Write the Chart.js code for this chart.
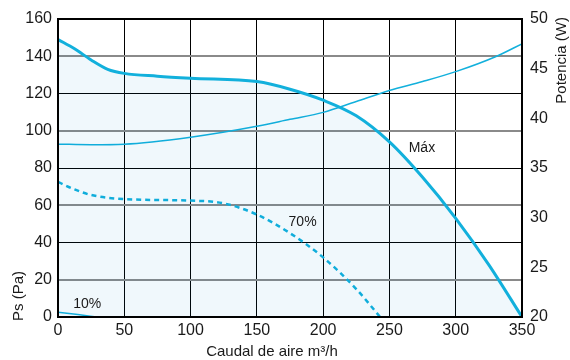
<!DOCTYPE html>
<html>
<head>
<meta charset="utf-8">
<title>Curva Ps / Potencia</title>
<script src="https://cdn.jsdelivr.net/npm/chart.js@4.4.1/dist/chart.umd.min.js"></script>
<style>
  html, body { margin: 0; padding: 0; background: #fff; }
  #wrap { width: 570px; height: 360px; }
</style>
</head>
<body>
<div id="wrap"><canvas id="fanChart" width="570" height="360"></canvas></div>
<script>
// static pressure curves (Pa) vs flow (m3/h)
const maxFlow = [0, 12.5, 25, 37.5, 50, 75, 100, 150, 175, 200, 225, 250, 275, 300, 325, 350];
const maxPs   = [149, 144, 138, 133, 130.8, 129.3, 128.2, 126.4, 122.3, 116.4, 108, 94, 75, 53, 28, 0];

const flow70 = [0, 12.5, 25, 50, 100, 125, 150, 175, 200, 225, 243];
const ps70   = [72.5, 68.5, 65.5, 63.3, 62.5, 61, 55, 45, 32, 15, 0];

const flow10 = [0, 15, 29];
const ps10   = [2.5, 1.3, 0];

// power (W), right axis
const powFlow = [0, 25, 50, 100, 150, 175, 200, 225, 250, 275, 300, 330, 350];
const powW    = [37.4, 37.35, 37.4, 38.1, 39.2, 39.9, 40.6, 41.7, 42.8, 43.7, 44.7, 46.2, 47.5];

const xTicks = [0, 50, 100, 150, 200, 250, 300, 350];
const yTicks = [0, 20, 40, 60, 80, 100, 120, 140, 160];
const y1Ticks = [20, 25, 30, 35, 40, 45, 50];

const curveLabels = ['10%', '70%', 'Máx'];
const labelFlow   = [22, 184.5, 274.5];
const labelPs     = [7.1, 51, 90.4];

const cyan = '#12b0dc';
const fontFam = '"Liberation Sans", Arial, sans-serif';

function pts(xs, ys) {
  return xs.map((x, i) => ({ x: x, y: ys[i] }));
}

const frame = {
  id: 'frame',
  afterDraw(chart) {
    const c = chart.ctx;
    const a = chart.chartArea;
    const sx = chart.scales.x, sy = chart.scales.y;
    c.save();
    c.strokeStyle = '#000';
    c.lineWidth = 2;
    c.strokeRect(a.left, a.top, a.right - a.left, a.bottom - a.top);

    c.fillStyle = '#1a1a1a';
    c.font = '14px ' + fontFam;
    c.textAlign = 'center';
    c.textBaseline = 'middle';
    curveLabels.forEach((t, i) => {
      c.fillText(t, sx.getPixelForValue(labelFlow[i]), sy.getPixelForValue(labelPs[i]));
    });

    c.font = '15px ' + fontFam;
    c.fillText('Caudal de aire m³/h', 272, 352);

    c.translate(18.5, 321);
    c.rotate(-Math.PI / 2);
    c.textAlign = 'left';
    c.fillText('Ps (Pa)', 0, 0);
    c.restore();

    c.save();
    c.fillStyle = '#1a1a1a';
    c.font = '15px ' + fontFam;
    c.textBaseline = 'middle';
    c.textAlign = 'right';
    c.translate(562, 17);
    c.rotate(-Math.PI / 2);
    c.fillText('Potencia (W)', 0, 0);
    c.restore();
  }
};

new Chart(document.getElementById('fanChart'), {
  type: 'scatter',
  data: {
    datasets: [
      {
        data: pts(maxFlow, maxPs),
        yAxisID: 'y',
        showLine: true,
        borderColor: cyan,
        borderWidth: 3,
        backgroundColor: 'rgba(0, 140, 210, 0.06)',
        fill: 'origin',
        pointRadius: 0,
        cubicInterpolationMode: 'monotone'
      },
      {
        data: pts(powFlow, powW),
        yAxisID: 'y1',
        showLine: true,
        borderColor: cyan,
        borderWidth: 1.5,
        pointRadius: 0,
        cubicInterpolationMode: 'monotone'
      },
      {
        data: pts(flow70, ps70),
        yAxisID: 'y',
        showLine: true,
        borderColor: cyan,
        borderWidth: 2.5,
        borderDash: [5, 4],
        pointRadius: 0,
        cubicInterpolationMode: 'monotone'
      },
      {
        data: pts(flow10, ps10),
        yAxisID: 'y',
        showLine: true,
        borderColor: cyan,
        borderWidth: 1.5,
        pointRadius: 0,
        cubicInterpolationMode: 'monotone'
      }
    ]
  },
  options: {
    responsive: false,
    animation: false,
    events: [],
    layout: { padding: { top: 19, left: 0, right: 0, bottom: 0 } },
    plugins: { legend: { display: false }, tooltip: { enabled: false } },
    scales: {
      x: {
        type: 'linear',
        min: 0, max: 350,
        afterFit: s => { s.height = 43; },
        afterBuildTicks: s => { s.ticks = xTicks.map(v => ({ value: v })); },
        grid: { color: '#000', lineWidth: 1, drawTicks: false },
        border: { display: true, color: '#000', width: 2 },
        ticks: { color: '#1a1a1a', padding: 4, maxRotation: 0, font: { family: fontFam, size: 16 } }
      },
      y: {
        position: 'left',
        min: 0, max: 160,
        afterFit: s => { s.width = 58; },
        afterBuildTicks: s => { s.ticks = yTicks.map(v => ({ value: v })); },
        grid: {
          drawTicks: false,
          color: c => (c.tick && c.tick.value % 40 === 20) ? '#8a8a8a' : '#000',
          lineWidth: c => (c.tick && c.tick.value % 40 === 20) ? 2 : 1
        },
        border: { display: true, color: '#000', width: 2 },
        ticks: { color: '#1a1a1a', padding: 6, font: { family: fontFam, size: 16 } }
      },
      y1: {
        position: 'right',
        min: 20, max: 50,
        afterFit: s => { s.width = 48; },
        afterBuildTicks: s => { s.ticks = y1Ticks.map(v => ({ value: v })); },
        grid: { display: false, drawTicks: false },
        border: { display: true, color: '#000', width: 2 },
        ticks: { color: '#1a1a1a', padding: 8, font: { family: fontFam, size: 16 } }
      }
    }
  },
  plugins: [frame]
});
</script>
</body>
</html>
